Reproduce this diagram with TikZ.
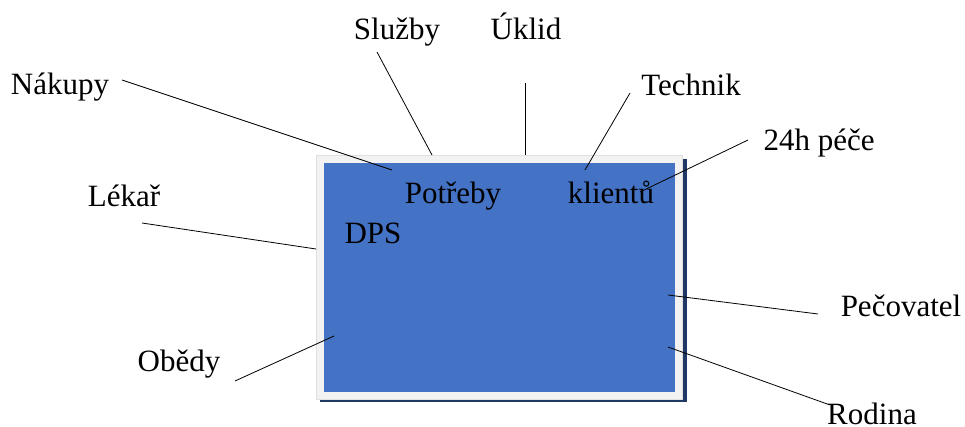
\documentclass[tikz,border=0pt]{standalone}
\usepackage{fontspec}
\setmainfont{Liberation Serif}
\usetikzlibrary{calc}
\definecolor{boxblue}{HTML}{4472C4}
\definecolor{boxframe}{HTML}{F2F2F2}
\definecolor{boxshadow}{HTML}{1F3864}
\tikzset{
	lbl/.style={anchor=base, inner sep=0pt, font=\fontsize{31}{36}\selectfont},
	ray/.style={line width=0.8pt, color=black}
}
\begin{document}
\begin{tikzpicture}[x=1pt, y=-1pt]
		%%%%% START %%%%%
		\useasboundingbox (0, 0) rectangle (965, 427);
		
		% the box
		\fill[boxshadow] (320, 159) rectangle (687, 402);
		\fill[boxframe] (316, 155) rectangle (682, 399);
		\draw[line width=0.5pt, color=black!12] (316, 155) rectangle (682, 399);
		\fill[boxblue] (324, 163) rectangle (675, 392);
		
		\node[lbl] (potreby) at (453, 204) {Potřeby};
		\node[lbl] (klientu) at (611, 204) {klientů};
		\node[lbl] (dps) at (373, 244) {DPS};
		
		% labels round the box
		\node[lbl] (sluzby) at (397, 40) {Služby};
		\node[lbl] (uklid) at (526, 40) {Úklid};
		\node[lbl] (nakupy) at (60, 95) {Nákupy};
		\node[lbl] (technik) at (691, 96) {Technik};
		\node[lbl] (pece) at (819, 151) {24h péče};
		\node[lbl] (lekar) at (124, 207) {Lékař};
		\node[lbl] (pecovatel) at (901, 316) {Pečovatel};
		\node[lbl] (obedy) at (179, 371) {Obědy};
		\node[lbl] (rodina) at (872, 424) {Rodina};
		
		% line ends
		\coordinate (nakupyA) at (122, 80);   \coordinate (nakupyB) at (392, 170);
		\coordinate (sluzbyA) at (377, 52);   \coordinate (sluzbyB) at (432, 155);
		\coordinate (uklidA) at (525, 83);    \coordinate (uklidB) at (525, 155);
		\coordinate (technikA) at (630, 93);  \coordinate (technikB) at (585, 170);
		\coordinate (peceA) at (748, 140);    \coordinate (peceB) at (640, 192);
		\coordinate (lekarA) at (142, 223);   \coordinate (lekarB) at (316, 249);
		\coordinate (obedyA) at (235, 381);   \coordinate (obedyB) at (334, 336);
		\coordinate (pecovatelA) at (818, 314); \coordinate (pecovatelB) at (668, 295);
		\coordinate (rodinaA) at (830, 405);  \coordinate (rodinaB) at (668, 347);
		
		\foreach \n in {nakupy, sluzby, uklid, technik, pece, lekar, obedy, pecovatel, rodina}
			\draw[ray] (\n A) -- (\n B);
		
		%%%%% END %%%%%
	\end{tikzpicture}
\end{document}
